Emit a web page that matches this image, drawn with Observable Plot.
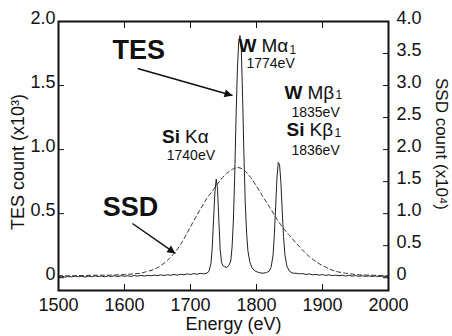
<!DOCTYPE html>
<html><head><meta charset="utf-8">
<script src="https://cdn.jsdelivr.net/npm/d3@7"></script>
<script src="https://cdn.jsdelivr.net/npm/@observablehq/plot@0.6"></script>
<style>body{margin:0;background:#fff}</style>
</head><body><div id="chart"></div>
<script>
// TES spectrum: energy (eV) and count (x10^3)
const energyTES = [1500,1505,1510,1515,1520,1525,1530,1535,1540,1545,1550,1555,1560,1565,1570,1575,1580,1585,1590,1595,1600,1605,1610,1615,1620,1625,1630,1635,1640,1645,1650,1655,1660,1665,1670,1675,1680,1685,1690,1695,1700,1705,1710,1715,1720,1725,1728,1731,1733,1735,1737,1739,1741,1743,1745,1747,1749,1752,1755,1758,1761,1763,1765,1767,1769,1771,1773,1775,1777,1779,1781,1783,1785,1787,1790,1793,1797,1801,1805,1810,1815,1819,1822,1825,1827,1829,1831,1833,1835,1837,1839,1841,1843,1846,1850,1855,1860,1865,1870,1875,1880,1885,1890,1895,1900,1905,1910,1915,1920,1925,1930,1935,1940,1945,1950,1955,1960,1965,1970,1975,1980,1985,1990,1995,2000];
const countTES = [0.008,0.012,0.004,0.010,0.006,0.013,0.007,0.011,0.005,0.012,0.008,0.014,0.009,0.013,0.007,0.014,0.010,0.015,0.009,0.016,0.011,0.015,0.010,0.017,0.012,0.018,0.013,0.019,0.015,0.020,0.016,0.022,0.017,0.023,0.019,0.025,0.020,0.027,0.022,0.030,0.025,0.032,0.027,0.034,0.030,0.036,0.050,0.110,0.240,0.460,0.670,0.770,0.690,0.440,0.220,0.120,0.095,0.085,0.080,0.095,0.130,0.240,0.450,0.800,1.250,1.620,1.840,1.890,1.780,1.400,0.950,0.580,0.350,0.210,0.120,0.080,0.055,0.045,0.038,0.035,0.040,0.050,0.080,0.170,0.330,0.550,0.780,0.900,0.880,0.740,0.520,0.320,0.180,0.090,0.050,0.035,0.035,0.030,0.032,0.025,0.030,0.022,0.026,0.020,0.024,0.018,0.022,0.016,0.020,0.015,0.019,0.013,0.018,0.012,0.016,0.011,0.015,0.010,0.014,0.010,0.013,0.009,0.012,0.010,0.012];
// SSD spectrum: energy (eV) and count (x10^4)
const energySSD = [1500,1520,1540,1560,1580,1600,1615,1625,1635,1645,1655,1665,1675,1685,1695,1705,1715,1725,1735,1745,1755,1765,1772,1780,1790,1800,1810,1820,1830,1840,1850,1860,1870,1880,1890,1900,1910,1920,1935,1950,1970,2000];
const countSSD = [0.03,0.03,0.035,0.04,0.04,0.05,0.06,0.07,0.10,0.13,0.19,0.27,0.38,0.52,0.70,0.89,1.07,1.24,1.38,1.52,1.63,1.70,1.72,1.69,1.58,1.43,1.26,1.10,0.93,0.78,0.66,0.54,0.43,0.33,0.25,0.19,0.14,0.10,0.07,0.05,0.04,0.03];
const xTicks = [1500,1600,1700,1800,1900,2000];
const tesTicks = [0,0.5,1.0,1.5,2.0];
const ssdTicks = [0,0.5,1.0,1.5,2.0,2.5,3.0,3.5,4.0];

const font = "'Liberation Sans', Arial, Helvetica, sans-serif";
const fmt = d => d === 0 ? "0" : d.toFixed(1);
const big = 19, small = 14, sub = 12;

// rich labels: pieces with data anchor + pixel offset
const pieces = [
  {x:1772.7, y:1.81, t:"W", w:"bold", s:big, dx:0, dy:0},
  {x:1772.7, y:1.81, t:"Mα", w:"normal", s:big, dx:23, dy:0},
  {x:1772.7, y:1.81, t:"1", w:"normal", s:sub, dx:51, dy:4},
  {x:1784.8, y:1.67, t:"1774eV", w:"normal", s:small, dx:0, dy:0},
  {x:1842.4, y:1.445, t:"W", w:"bold", s:big, dx:0, dy:0},
  {x:1842.4, y:1.445, t:"Mβ", w:"normal", s:big, dx:23, dy:0},
  {x:1842.4, y:1.445, t:"1", w:"normal", s:sub, dx:51, dy:3},
  {x:1853, y:1.29, t:"1835eV", w:"normal", s:small, dx:0, dy:0},
  {x:1845.5, y:1.15, t:"Si", w:"bold", s:big, dx:0, dy:0},
  {x:1845.5, y:1.15, t:"Kβ", w:"normal", s:big, dx:23, dy:0},
  {x:1845.5, y:1.15, t:"1", w:"normal", s:sub, dx:48, dy:3},
  {x:1853, y:0.995, t:"1836eV", w:"normal", s:small, dx:0, dy:0},
  {x:1657, y:1.10, t:"Si", w:"bold", s:big, dx:0, dy:0},
  {x:1657, y:1.10, t:"Kα", w:"normal", s:big, dx:23, dy:0},
  {x:1664, y:0.95, t:"1740eV", w:"normal", s:small, dx:0, dy:0},
  {x:1582, y:1.774, t:"TES", w:"bold", s:27, dx:0, dy:0},
  {x:1567, y:0.55, t:"SSD", w:"bold", s:27, dx:0, dy:0}
];
const arrows = [
  {x1:1620, y1:1.633, x2:1763.6, y2:1.422},
  {x1:1612, y1:0.423, x2:1677, y2:0.189}
];

const textMarks = pieces.map(p => Plot.text([p], {
  x: "x", y: "y", text: "t", dx: p.dx, dy: p.dy,
  textAnchor: "start", lineAnchor: "middle",
  fontSize: p.s, fontWeight: p.w, fill: "#111"
}));

const chart = Plot.plot({
  width: 452, height: 336,
  marginLeft: 58, marginRight: 64, marginTop: 21, marginBottom: 46,
  style: {fontFamily: font, fontSize: "18px", color: "#111", background: "#fff"},
  x: {domain: [1500, 2000]},
  y: {domain: [-0.1, 2.0]},
  marks: [
    Plot.line(energySSD, {x: energySSD, y: countSSD.map(v => v / 2), stroke: "#333", strokeWidth: 1, strokeDasharray: "4,3", curve: "catmull-rom"}),
    Plot.line(energyTES, {x: energyTES, y: countTES, stroke: "#222", strokeWidth: 1}),
    // inward ticks on all four sides
    Plot.axisX({ticks: xTicks, tickSize: -6, tickFormat: () => "", label: null}),
    Plot.axisX({ticks: xTicks, anchor: "top", tickSize: -6, tickFormat: () => "", label: null}),
    Plot.axisY({ticks: tesTicks, tickSize: -6, tickFormat: () => "", label: null}),
    Plot.axisY({ticks: ssdTicks.map(v => v / 2), anchor: "right", tickSize: -6, tickFormat: () => "", label: null}),
    Plot.frame({stroke: "#111", strokeWidth: 2}),
    // tick labels
    Plot.text(xTicks, {x: d => d, frameAnchor: "bottom", text: d => String(d), lineAnchor: "top", textAnchor: "middle", dy: 8, fontSize: 18, fill: "#111"}),
    Plot.text(tesTicks, {y: d => d, frameAnchor: "left", text: fmt, textAnchor: "end", lineAnchor: "middle", dx: -3, dy: -3, fontSize: 18, fill: "#111"}),
    Plot.text(ssdTicks, {y: d => d / 2, frameAnchor: "right", text: fmt, textAnchor: "start", lineAnchor: "middle", dx: 8, dy: -3, fontSize: 18, fill: "#111"}),
    // axis titles
    Plot.text(["Energy (eV)"], {frameAnchor: "bottom", textAnchor: "middle", dy: 34, dx: 10, lineAnchor: "middle", fontSize: 18, fill: "#111"}),
    Plot.text(["TES count (x10³)"], {frameAnchor: "left", textAnchor: "middle", dx: -40, dy: 6, rotate: -90, lineAnchor: "middle", fontSize: 18, fill: "#111"}),
    Plot.text(["SSD count (x10⁴)"], {frameAnchor: "right", textAnchor: "middle", dx: 53, dy: -12, rotate: 90, lineAnchor: "middle", fontSize: 17, fill: "#111"}),
    Plot.link(arrows, {x1: "x1", y1: "y1", x2: "x2", y2: "y2", stroke: "#111", strokeWidth: 1.5, markerEnd: "arrow"}),
    ...textMarks
  ]
});

// turn the annotation arrowheads into filled triangles
d3.select(chart).selectAll("marker").each(function () {
  const m = d3.select(this);
  m.attr("viewBox", "0 0 10 10").attr("refX", 10).attr("refY", 5)
   .attr("markerWidth", 12).attr("markerHeight", 8)
   .attr("markerUnits", "userSpaceOnUse").attr("orient", "auto");
  m.selectAll("*").remove();
  m.append("path").attr("d", "M0,0L10,5L0,10z").attr("fill", "#111").attr("stroke", "none");
});

document.getElementById("chart").appendChild(chart);
</script>
</body></html>
